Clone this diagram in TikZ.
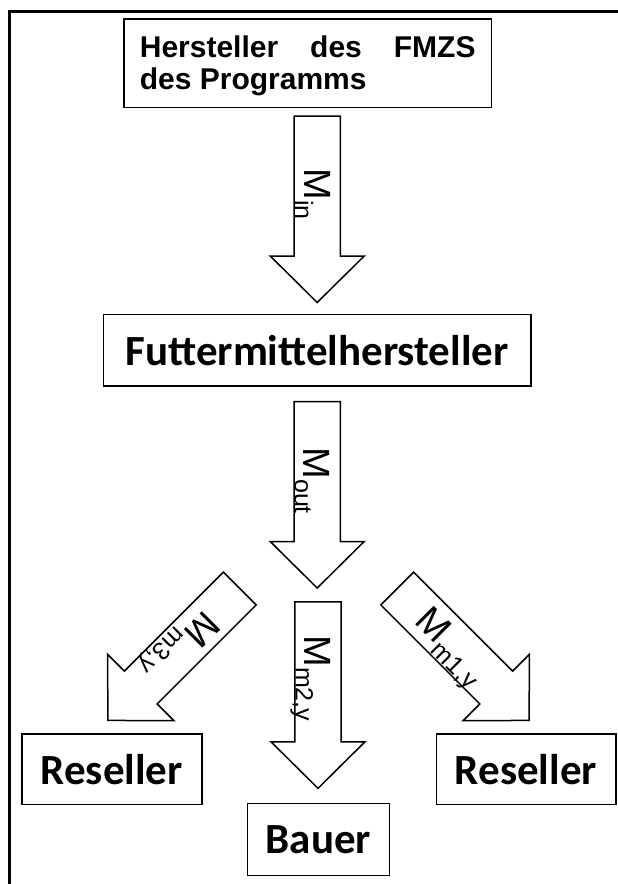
\documentclass[tikz,border=0pt]{standalone}
\usepackage{fontspec}
\setmainfont{Liberation Sans}
\newfontfamily\calibrifont{Carlito}
\usetikzlibrary{calc}
\newcommand\blockarrow[3]{%
  \coordinate (#3-h) at ($(#1)!140pt!(#2)$);
  \draw[blockarrowline] ($(#1)!23.2pt!90:(#2)$) -- ($(#3-h)!23.2pt!90:(#2)$)
    -- ($(#3-h)!47pt!90:(#2)$) -- (#2) -- ($(#3-h)!47pt!-90:(#2)$)
    -- ($(#3-h)!23.2pt!-90:(#2)$) -- ($(#1)!23.2pt!-90:(#2)$) -- cycle;
}
\newcommand\msub[1]{\raisebox{-9pt}{\fontsize{25}{25}\selectfont #1}}
\begin{document}
\begin{tikzpicture}[x=1pt,y=-1pt,
  box/.style={draw, line width=1.6pt, inner sep=0pt,
    font=\calibrifont\bfseries\fontsize{43}{43}\selectfont},
  topboxstyle/.style={draw, line width=1.6pt, inner sep=0pt,
    font=\bfseries\fontsize{30}{32}\selectfont},
  blockarrowline/.style={draw, line width=1.5pt, fill=white, line join=miter},
  mlabel/.style={inner sep=0pt, anchor=base west, font=\fontsize{38}{38}\selectfont},
  frameline/.style={line width=3pt, line join=miter}]
\useasboundingbox (0,0) rectangle (618,884);
\fill[white] (0,0) rectangle (618,884);
% frame
\draw[frameline] (620,11.2) -- (9.2,11.2) -- (9.2,886);
% boxes
\node[topboxstyle, minimum width=367.4pt, minimum height=88.3pt] (top) at (307.7,63.15)
  {\raisebox{0pt}[24.5pt][35.3pt]{\vtop{\hbox{\makebox[335.7pt][s]{Hersteller des FMZS}}\hbox{des Programms}}}};
\node[box, minimum width=427.7pt, minimum height=71.7pt] (futter) at (317.15,350.3) {Futtermittelhersteller};
\node[box, minimum width=180.1pt, minimum height=70.7pt] (resL) at (111.75,769.3) {Reseller};
\node[box, minimum width=179.4pt, minimum height=70.7pt] (resR) at (526,769.3) {Reseller};
\node[box, minimum width=141.9pt, minimum height=72pt] (bauer) at (318.45,839.5) {Bauer};
% arrow coordinates
\coordinate (a1s) at (317.2,116);
\coordinate (a1t) at (317.2,302.5);
\coordinate (a2s) at (317.2,401.5);
\coordinate (a2t) at (317.2,588);
\coordinate (a3s) at (318,601.8);
\coordinate (a3t) at (318,788.3);
\coordinate (a4s) at (239.8,588.5);
\coordinate (a4t) at (107.9,720.4);
\coordinate (a5s) at (397.2,588.5);
\coordinate (a5t) at (529.1,720.4);
\blockarrow{a1s}{a1t}{A1}
\blockarrow{a2s}{a2t}{A2}
\blockarrow{a3s}{a3t}{A3}
\blockarrow{a4s}{a4t}{A4}
\blockarrow{a5s}{a5t}{A5}
% labels
\node[mlabel, rotate=-90] (lin) at (304,168.2) {M\msub{in}};
\node[mlabel, rotate=-90] (lout) at (303.5,447.3) {M\msub{out}};
\node[mlabel, rotate=-90] (lm2) at (304.5,635.2) {M\msub{m2,y}};
\node[mlabel, rotate=-135] (lm3) at (204.6,609.4) {M\msub{m3,y}};
\node[mlabel, rotate=-45] (lm1) at (413.8,622.8) {M\msub{m1,y}};
\end{tikzpicture}
\end{document}
